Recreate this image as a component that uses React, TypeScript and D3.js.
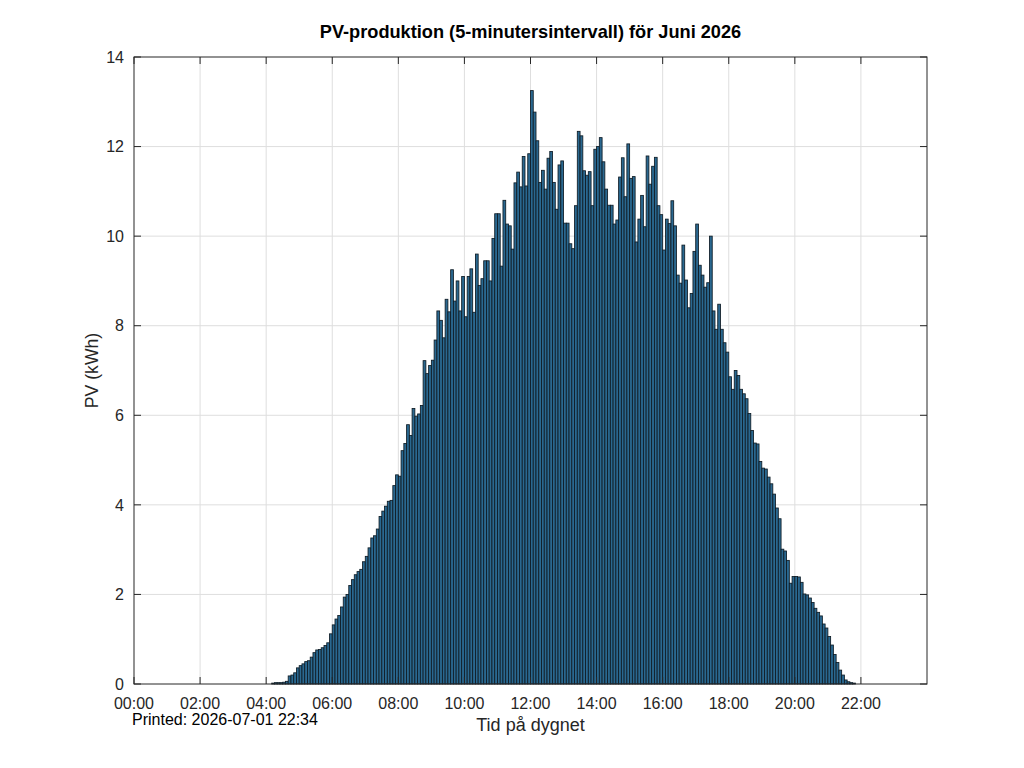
import * as d3 from 'd3';
import React from 'react';

// PV production per 5-minute slot, one array per two hours (24 slots each)
const pv0000: number[] = [0, 0, 0, 0, 0, 0, 0, 0, 0, 0, 0, 0, 0, 0, 0, 0, 0, 0, 0, 0, 0, 0, 0, 0];
const pv0200: number[] = [0, 0, 0, 0, 0, 0, 0, 0, 0, 0, 0, 0, 0, 0, 0, 0, 0, 0, 0, 0, 0, 0, 0, 0];
const pv0400: number[] = [0, 0, 0.02, 0.03, 0.03, 0.03, 0.04, 0.06, 0.18, 0.2, 0.25, 0.36, 0.41, 0.45, 0.5, 0.52, 0.6, 0.7, 0.76, 0.77, 0.81, 0.86, 0.92, 1.12];
const pv0600: number[] = [1.32, 1.45, 1.53, 1.72, 1.94, 2.0, 2.2, 2.33, 2.44, 2.51, 2.56, 2.73, 2.85, 3.04, 3.26, 3.31, 3.46, 3.74, 3.86, 3.97, 4.08, 4.1, 4.43, 4.67];
const pv0800: number[] = [4.64, 5.21, 5.37, 5.79, 5.55, 6.15, 5.98, 6.03, 6.22, 7.22, 6.93, 7.11, 7.23, 7.68, 8.33, 8.12, 7.73, 8.59, 8.31, 9.25, 8.55, 9.0, 8.33, 9.1];
const pv1000: number[] = [8.2, 9.1, 9.27, 8.3, 9.6, 8.9, 9.05, 9.45, 9.45, 9.0, 9.95, 10.5, 10.5, 9.33, 10.8, 10.27, 10.23, 9.71, 11.19, 11.43, 11.1, 11.78, 11.12, 11.84];
const pv1200: number[] = [13.25, 12.77, 12.13, 11.2, 11.47, 11.05, 11.74, 11.89, 11.2, 10.6, 11.59, 11.68, 10.29, 10.29, 9.83, 9.72, 10.68, 12.34, 12.24, 11.46, 11.36, 11.44, 10.68, 11.94];
const pv1400: number[] = [12.0, 12.2, 11.66, 11.05, 10.69, 10.69, 10.27, 10.36, 11.32, 11.75, 10.88, 12.06, 11.29, 11.33, 9.87, 10.38, 10.91, 10.21, 11.79, 11.16, 11.56, 11.76, 10.68, 10.48];
const pv1600: number[] = [9.69, 10.38, 10.28, 10.79, 10.23, 9.13, 8.95, 9.8, 9.02, 8.4, 8.72, 9.66, 10.27, 9.35, 9.13, 8.86, 8.96, 10.0, 8.33, 7.92, 8.48, 7.92, 7.62, 7.41];
const pv1800: number[] = [6.86, 6.58, 7.0, 6.89, 6.58, 6.48, 6.37, 6.04, 5.66, 5.38, 5.36, 4.97, 4.82, 4.8, 4.62, 4.47, 4.24, 3.93, 3.69, 3.01, 2.97, 2.76, 2.25, 2.4];
const pv2000: number[] = [2.4, 2.39, 2.27, 2.01, 1.99, 1.92, 1.82, 1.69, 1.6, 1.52, 1.34, 1.25, 1.06, 0.87, 0.66, 0.48, 0.31, 0.2, 0.09, 0.05, 0.03, 0.02, 0, 0];
const pv2200: number[] = [0, 0, 0, 0, 0, 0, 0, 0, 0, 0, 0, 0, 0, 0, 0, 0, 0, 0, 0, 0, 0, 0, 0, 0];

const xTickLabels: string[] = ['00:00', '02:00', '04:00', '06:00', '08:00', '10:00', '12:00', '14:00', '16:00', '18:00', '20:00', '22:00'];
const yTicks: number[] = [0, 2, 4, 6, 8, 10, 12, 14];

const titleText = 'PV-produktion (5-minutersintervall) för Juni 2026';
const xLabelText = 'Tid på dygnet';
const yLabelText = 'PV (kWh)';
const printedText = 'Printed: 2026-07-01 22:34';

export default () => {
    const values = [
        ...pv0000, ...pv0200, ...pv0400, ...pv0600, ...pv0800, ...pv1000,
        ...pv1200, ...pv1400, ...pv1600, ...pv1800, ...pv2000, ...pv2200,
    ];

    const width = 1024;
    const height = 768;
    const margin = { top: 57, right: 97, bottom: 84, left: 134 };
    const x0 = margin.left;
    const x1 = width - margin.right;
    const y0 = height - margin.bottom;
    const y1 = margin.top;

    // minutes of the day
    const xScale = d3.scaleLinear().domain([0, 1440]).range([x0, x1]);
    const yScale = d3.scaleLinear().domain([0, 14]).range([y0, y1]);

    const xTicks = xTickLabels.map((_, i) => i * 120);
    const barW = xScale(5) - xScale(0);
    const font = '"Liberation Sans", Arial, Helvetica, sans-serif';
    const axisColor = '#262626';
    const gridColor = '#dedede';
    const tickLen = 7;

    return (
        <svg width={width} height={height}
            style={{ position: 'absolute', left: 0, top: 0, background: '#fff' }}
            fontFamily={font}>
            <rect x={0} y={0} width={width} height={height} fill="#fff" />

            {/* grid */}
            <g className="grid" stroke={gridColor} strokeWidth={1}>
                {xTicks.slice(1).map((t) => (
                    <line key={'gx' + t} x1={xScale(t)} x2={xScale(t)} y1={y0} y2={y1} />
                ))}
                {yTicks.slice(1, -1).map((t) => (
                    <line key={'gy' + t} x1={x0} x2={x1} y1={yScale(t)} y2={yScale(t)} />
                ))}
            </g>

            {/* bars */}
            <g className="bars" fill="#2a6890" stroke="#0f1c25" strokeWidth={0.85}>
                {values.map((v, i) => v > 0 ? (
                    <rect key={i}
                        x={xScale(i * 5)}
                        y={yScale(v)}
                        width={barW}
                        height={yScale(0) - yScale(v)} />
                ) : null)}
            </g>

            {/* box and ticks */}
            <g stroke={axisColor} strokeWidth={1} fill="none">
                <rect x={x0} y={y1} width={x1 - x0} height={y0 - y1} />
                {xTicks.map((t) => (
                    <g key={'tx' + t}>
                        <line x1={xScale(t)} x2={xScale(t)} y1={y0} y2={y0 - tickLen} />
                        <line x1={xScale(t)} x2={xScale(t)} y1={y1} y2={y1 + tickLen} />
                    </g>
                ))}
                {yTicks.map((t) => (
                    <g key={'ty' + t}>
                        <line x1={x0} x2={x0 + tickLen} y1={yScale(t)} y2={yScale(t)} />
                        <line x1={x1} x2={x1 - tickLen} y1={yScale(t)} y2={yScale(t)} />
                    </g>
                ))}
            </g>

            {/* tick labels */}
            <g fill={axisColor} fontSize={16}>
                {xTicks.map((t, i) => (
                    <text key={'lx' + t} x={xScale(t)} y={y0 + 25} textAnchor="middle">{xTickLabels[i]}</text>
                ))}
                {yTicks.map((t) => (
                    <text key={'ly' + t} x={x0 - 10} y={yScale(t)} dy="0.36em" textAnchor="end">{t}</text>
                ))}
            </g>

            <text x={(x0 + x1) / 2} y={38} textAnchor="middle" fontSize={18.2} fontWeight="bold" fill="#000">{titleText}</text>
            <text x={(x0 + x1) / 2} y={731} textAnchor="middle" fontSize={18} fill={axisColor}>{xLabelText}</text>
            <text transform={`translate(98, ${(y0 + y1) / 2}) rotate(-90)`} textAnchor="middle" fontSize={17.6} fill={axisColor}>{yLabelText}</text>
            <text x={132} y={725} fontSize={16} fill="#000">{printedText}</text>
        </svg>
    );
};
